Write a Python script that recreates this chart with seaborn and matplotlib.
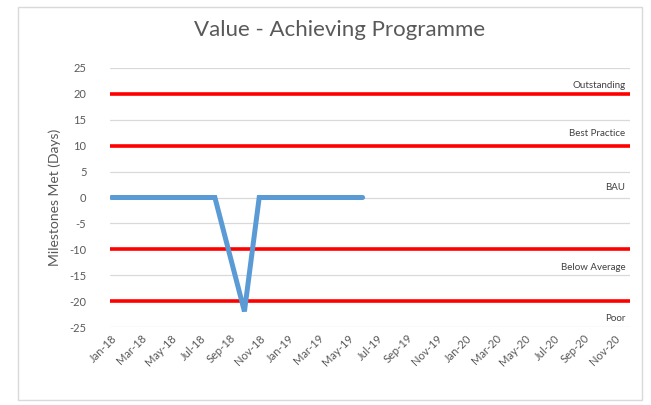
import numpy as np
import pandas as pd
import matplotlib
matplotlib.use('Agg')
import matplotlib.pyplot as plt
import seaborn as sns

# monthly categories Jan-18 .. Dec-20
months = pd.date_range('2018-01-01', '2020-12-01', freq='MS')
month_labels = [m.strftime('%b-%y') for m in months]

# milestones met (days), only reported up to Jun-19
milestones = [0, 0, 0, 0, 0, 0, 0, 0, -11, -22, 0, 0, 0, 0, 0, 0, 0, 0]

# threshold bands
band_values = [20, 10, -10, -20]
band_names = ['Outstanding', 'Best Practice', 'BAU', 'Below Average', 'Poor']
band_label_y = [21.6, 12.4, 1.9, -13.5, -23.4]

yticks = list(range(-25, 30, 5))

sns.set_theme(style='white')
plt.rcParams['font.family'] = ['Lato', 'DejaVu Sans']

df = pd.DataFrame({'pos': range(len(milestones)), 'days': milestones})

fig = plt.figure(figsize=(6.51, 4.05), dpi=100)
ax = fig.add_axes([110/651, 1 - 327/405, 520/651, 259/405])

for y in yticks:
    ax.axhline(y, color='#d9d9d9', lw=0.9, zorder=1)
for y in band_values:
    ax.axhline(y, color='#ff0000', lw=2.6, zorder=2)

sns.lineplot(data=df, x='pos', y='days', ax=ax, color='#5b9bd5', lw=3.6,
             zorder=3, solid_capstyle='round', solid_joinstyle='miter')

n = len(month_labels)
ax.set_xlim(-0.1, n - 0.9)
ax.set_ylim(-25, 25)
ax.set_yticks(yticks)
ax.set_yticklabels([str(v) for v in yticks], fontsize=8, color='#595959')
ax.set_xticks(range(0, n, 2))
ax.set_xticklabels(month_labels[::2], rotation=45, ha='right',
                   rotation_mode='anchor', fontsize=8, color='#595959')
ax.tick_params(axis='y', length=0, pad=17)
ax.tick_params(axis='x', length=0, pad=4)
ax.set_xlabel('')
ax.set_ylabel('Milestones Met (Days)', fontsize=10, color='#595959', labelpad=6)
for s in ax.spines.values():
    s.set_visible(False)

for name, y in zip(band_names, band_label_y):
    ax.text(n - 1.2, y, name, ha='right', va='center', fontsize=7,
            color='#404040', zorder=4)

fig.text(340/651, 1 - 30/405, 'Value - Achieving Programme', ha='center',
         va='center', fontsize=16, color='#595959')

# chart area border
fig.patches.append(plt.Rectangle((18/651, 5/405), 624/651, 393/405,
                                 transform=fig.transFigure, fill=False,
                                 edgecolor='#d9d9d9', lw=1))

fig.savefig('out.png', dpi=100)
